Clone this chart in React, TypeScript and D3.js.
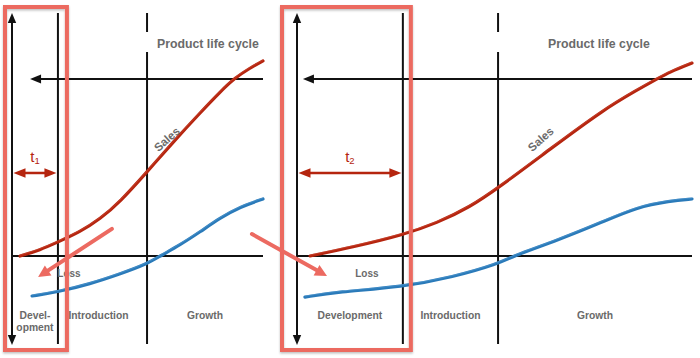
import React from 'react';
import * as d3 from 'd3';

const W = 700;
const H = 358;

// Data: time in % of the panel's time axis, value relative to zero line (0) and the top reference line (100)
const salesLeftT = [3.2, 11.2, 18.3, 27.1, 35.1, 43.0, 53.8, 64.9, 74.9, 82.9, 88.8, 94.8, 100];
const salesLeftV = [0, 3.4, 7.9, 13.6, 20.9, 30.5, 47.5, 65.5, 80.8, 92.7, 100.6, 106.2, 110.2];
const profitLeftT = [8.0, 18.3, 31.1, 43.0, 53.8, 59.0, 66.9, 74.9, 82.9, 90.8, 100];
const profitLeftV = [-22.6, -20.3, -15.8, -10.2, -4.5, 0, 6.2, 13.6, 21.5, 27.7, 32.2];
const salesRightT = [3.3, 14.2, 26.8, 35.4, 43.8, 50.9, 64.8, 77.5, 86.1, 91.1, 94.4, 100];
const salesRightV = [0, 5.1, 11.9, 18.6, 27.7, 38.4, 61.6, 82.5, 93.8, 100, 104, 109];
const profitRightT = [2.0, 10.1, 26.8, 39.5, 50.9, 54.7, 64.8, 76.7, 86.1, 94.4, 100];
const profitRightV = [-23.2, -20.3, -17.5, -11.9, -4.5, 0, 7.9, 18.6, 27.7, 31.1, 32.2];

const phaseBoundsLeft = [0, 18.3, 53.8, 100];
const phaseBoundsRight = [0, 26.8, 50.9, 100];
const phaseLabelsLeft = [['Devel-', 'opment'], ['Introduction'], ['Growth']];
const phaseLabelsRight = [['Development'], ['Introduction'], ['Growth']];
const durationSubscripts = ['1', '2'];
const titleText = 'Product life cycle';
const salesText = 'Sales';
const lossText = 'Loss';

const GREY = '#6a6a6a';
const BLACK = '#111';
const RED = '#b5250f';
const BLUE = '#2a7ab9';
const PINK = '#ec6a61';
const FONT = '"Liberation Sans", Arial, Helvetica, sans-serif';

const yScale = d3.scaleLinear().domain([0, 100]).range([256, 79]);
const AXIS_TOP = 13;
const AXIS_BOTTOM = 345;

const panels = [
  {
    range: [12, 263], salesT: salesLeftT, salesV: salesLeftV, profitT: profitLeftT, profitV: profitLeftV,
    bounds: phaseBoundsLeft, labels: phaseLabelsLeft, sub: durationSubscripts[0],
    arrowTip: 7.2, titleX: 157, lossT: 22.7, rectPad: [7, 9],
  },
  {
    range: [297, 692], salesT: salesRightT, salesV: salesRightV, profitT: profitRightT, profitV: profitRightV,
    bounds: phaseBoundsRight, labels: phaseLabelsRight, sub: durationSubscripts[1],
    arrowTip: 1.5, titleX: 548, lossT: 17.7, rectPad: [15, 8],
  },
];

// Annotation arrows (panel index, t, v)
const annotFrom = [[0, 39.8, 15.3], [0, 95.6, 12.4]];
const annotTo = [[0, 10.4, -11.9], [1, 7.6, -11.3]];

function tri(tip: [number, number], from: [number, number], len: number, half: number) {
  const a = Math.atan2(tip[1] - from[1], tip[0] - from[0]);
  const bx = tip[0] - Math.cos(a) * len;
  const by = tip[1] - Math.sin(a) * len;
  const px = -Math.sin(a) * half;
  const py = Math.cos(a) * half;
  return `${tip[0]},${tip[1]} ${bx + px},${by + py} ${bx - px},${by - py}`;
}

export default function App() {
  const xScales = panels.map((p) => d3.scaleLinear().domain([0, 100]).range(p.range));
  const line = d3.line<[number, number]>().curve(d3.curveBasis);

  return (
    <svg width={W} height={H} style={{ position: 'absolute', left: 0, top: 0, background: '#fff', display: 'block' }}
      fontFamily={FONT}>
      <defs>
        <filter id="shadow" x="-10%" y="-10%" width="120%" height="120%">
          <feDropShadow dx="0" dy="1.5" stdDeviation="1.2" floodColor="#000" floodOpacity="0.25" />
        </filter>
      </defs>
      <rect width={W} height={H} fill="#fff" />
      {panels.map((p, i) => {
        const x = xScales[i];
        const x0 = x(0);
        const xEnd = x(100);
        const devX = x(p.bounds[1]);
        const introX = x(p.bounds[2]);
        const yZero = yScale(0);
        const yTop = yScale(100);
        const salesPts = p.salesT.map((t, j) => [x(t), yScale(p.salesV[j])] as [number, number]);
        const profitPts = p.profitT.map((t, j) => [x(t), yScale(p.profitV[j])] as [number, number]);
        const arrowY = yScale(46.9);
        const tip = x(p.arrowTip);
        return (
          <g key={i}>
            {/* vertical axis with arrows both ends */}
            <line x1={x0} x2={x0} y1={AXIS_TOP + 6} y2={AXIS_BOTTOM - 6} stroke={BLACK} strokeWidth={2} />
            <polygon points={tri([x0, AXIS_TOP], [x0, AXIS_TOP + 20], 10, 4.2)} fill={BLACK} />
            <polygon points={tri([x0, AXIS_BOTTOM], [x0, AXIS_BOTTOM - 20], 10, 4.2)} fill={BLACK} />
            {/* development end line */}
            <line x1={devX} x2={devX} y1={AXIS_TOP} y2={AXIS_BOTTOM - 1} stroke={BLACK} strokeWidth={2} />
            {/* introduction end line (broken near the top) */}
            <line x1={introX} x2={introX} y1={AXIS_TOP} y2={32} stroke={BLACK} strokeWidth={2} />
            <line x1={introX} x2={introX} y1={52} y2={AXIS_BOTTOM - 1} stroke={BLACK} strokeWidth={2} />
            {/* top reference line with left arrow */}
            <line x1={xEnd} x2={tip + 8} y1={yTop} y2={yTop} stroke={BLACK} strokeWidth={2} />
            <polygon points={tri([tip, yTop], [tip + 20, yTop], 11, 4.5)} fill={BLACK} />
            {/* zero line */}
            <line x1={x0} x2={xEnd} y1={yZero} y2={yZero} stroke={BLACK} strokeWidth={2} />
            {/* title */}
            <text x={p.titleX} y={48} fontSize={12.3} fontWeight="bold" fill={GREY}>{titleText}</text>
            {/* curves */}
            <path d={line(salesPts) || ''} fill="none" stroke={RED} strokeWidth={3.2} strokeLinecap="round" />
            <path d={line(salesPts) || ''} fill="none" stroke="#d2553f" strokeWidth={0.8} strokeOpacity={0.6} transform="translate(0,-1)" />
            <path d={line(profitPts) || ''} fill="none" stroke={BLUE} strokeWidth={3.2} strokeLinecap="round" />
            <path d={line(profitPts) || ''} fill="none" stroke="#5fa3d6" strokeWidth={0.8} strokeOpacity={0.6} transform="translate(0,-1)" />
            {/* Sales label */}
            <text transform={`translate(${x(61.7)},${yScale(66)}) rotate(-42)`} textAnchor="middle" dy="0.35em"
              fontSize={11.5} fontWeight="bold" fill={GREY}>{salesText}</text>
            {/* Loss label */}
            <text x={x(p.lossT)} y={277} textAnchor="middle" fontSize={10} fontWeight="bold" fill={GREY}>{lossText}</text>
            {/* phase labels */}
            {p.labels.map((lab, k) => {
              const cx = (x(p.bounds[k]) + x(p.bounds[k + 1])) / 2 - (i === 0 && k === 1 ? 4 : 0);
              return (
                <text key={k} x={cx} y={319} textAnchor="middle" fontSize={10.3} fontWeight="bold" fill={GREY}>
                  {lab.map((s, m) => (
                    <tspan key={m} x={cx} dy={m === 0 ? 0 : 12}>{s}</tspan>
                  ))}
                </text>
              );
            })}
            {/* duration arrow */}
            <line x1={x0 + 10} x2={devX - 10} y1={arrowY} y2={arrowY} stroke={RED} strokeWidth={2.5} />
            <polygon points={tri([x0 + 1.5, arrowY], [x0 + 20, arrowY], 12, 4.8)} fill={RED} />
            <polygon points={tri([devX - 1.5, arrowY], [devX - 20, arrowY], 12, 4.8)} fill={RED} />
            <text x={(x0 + devX) / 2} y={162} textAnchor="middle" fill={RED} fontSize={15}>
              t<tspan fontSize={9.5} dy={2}>{p.sub}</tspan>
            </text>
            {/* highlight rectangle */}
            <rect x={x0 - p.rectPad[0]} y={7} width={devX + p.rectPad[1] - (x0 - p.rectPad[0])} height={343}
              fill="none" stroke={PINK} strokeWidth={4} filter="url(#shadow)" />
          </g>
        );
      })}
      {/* pink annotation arrows */}
      {annotFrom.map((f, i) => {
        const t = annotTo[i];
        const a: [number, number] = [xScales[f[0]](f[1]), yScale(f[2])];
        const b: [number, number] = [xScales[t[0]](t[1]), yScale(t[2])];
        const ang = Math.atan2(b[1] - a[1], b[0] - a[0]);
        const lineEnd: [number, number] = [b[0] - Math.cos(ang) * 8, b[1] - Math.sin(ang) * 8];
        return (
          <g key={i}>
            <line x1={a[0]} y1={a[1]} x2={lineEnd[0]} y2={lineEnd[1]} stroke={PINK} strokeWidth={4} strokeLinecap="round" />
            <polygon points={tri(b, a, 12, 6)} fill={PINK} />
          </g>
        );
      })}
    </svg>
  );
}
